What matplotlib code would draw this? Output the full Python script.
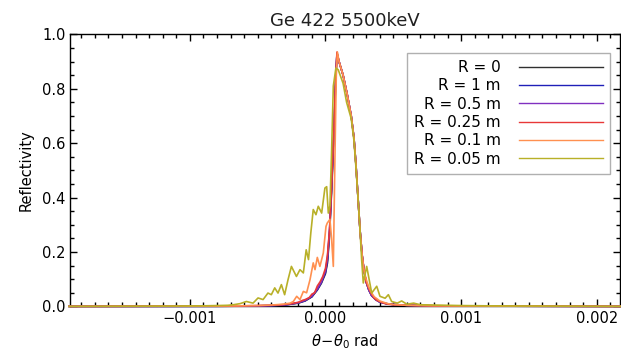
"""
Ge 422 reflectivity curves at 5500 keV for several bending radii
"""
import numpy as np
import matplotlib
matplotlib.use('Agg')
import matplotlib.pyplot as plt
from matplotlib.ticker import MultipleLocator

#%% Data (angles in micro-radians)

# perfect / weakly bent crystal (R = 0, 1 m, 0.5 m)
theta_flat = [-1890, -800, -600, -400, -300, -200, -150, -100, -60, -30, 0, 15,
              30, 45, 60, 75, 85, 100, 130, 160, 190, 210, 225, 240, 255, 270,
              285, 300, 320, 340, 370, 400, 450, 500, 600, 800, 1200, 2180]
refl_flat = [0.0, 0.0005, 0.001, 0.003, 0.005, 0.012, 0.02, 0.035, 0.06, 0.085,
             0.12, 0.16, 0.26, 0.42, 0.60, 0.82, 0.93, 0.90, 0.85, 0.78, 0.70,
             0.62, 0.52, 0.40, 0.28, 0.19, 0.13, 0.09, 0.06, 0.04, 0.025, 0.016,
             0.01, 0.007, 0.004, 0.002, 0.001, 0.0]

theta_r1 = theta_flat
refl_r1 = [0.0, 0.0005, 0.001, 0.003, 0.005, 0.013, 0.021, 0.036, 0.062, 0.088,
           0.125, 0.17, 0.27, 0.43, 0.61, 0.82, 0.93, 0.90, 0.85, 0.78, 0.70,
           0.62, 0.52, 0.40, 0.28, 0.19, 0.13, 0.09, 0.06, 0.04, 0.025, 0.016,
           0.01, 0.007, 0.004, 0.002, 0.001, 0.0]

theta_r05 = theta_flat
refl_r05 = [0.0, 0.0005, 0.001, 0.003, 0.006, 0.014, 0.022, 0.038, 0.064, 0.09,
            0.13, 0.18, 0.28, 0.44, 0.62, 0.83, 0.93, 0.90, 0.85, 0.78, 0.70,
            0.62, 0.52, 0.40, 0.28, 0.19, 0.13, 0.09, 0.06, 0.04, 0.025, 0.016,
            0.01, 0.007, 0.004, 0.002, 0.001, 0.0]

# R = 0.25 m
theta_r025 = [-1890, -800, -600, -400, -300, -250, -200, -170, -150, -120, -100,
              -80, -60, -40, -20, 0, 15, 30, 45, 60, 75, 85, 100, 130, 160, 190,
              210, 225, 240, 255, 270, 285, 300, 320, 340, 360, 380, 400, 430,
              460, 500, 600, 800, 1200, 2180]
refl_r025 = [0.0, 0.001, 0.002, 0.004, 0.007, 0.01, 0.015, 0.022, 0.025, 0.032,
             0.045, 0.05, 0.075, 0.09, 0.11, 0.14, 0.19, 0.28, 0.44, 0.62, 0.84,
             0.935, 0.90, 0.85, 0.78, 0.70, 0.62, 0.52, 0.40, 0.28, 0.19, 0.13,
             0.09, 0.065, 0.045, 0.03, 0.022, 0.018, 0.012, 0.008, 0.006, 0.004,
             0.002, 0.001, 0.0]

# R = 0.1 m
theta_r01 = [-1890, -800, -500, -400, -311, -260, -237, -212, -188, -163, -139,
             -114, -90, -77, -60, -41, -16, 4, 13, 33, 45, 58, 70, 80, 88, 100,
             130, 160, 190, 210, 225, 240, 255, 270, 285, 300, 320, 340, 360,
             380, 400, 430, 460, 500, 600, 800, 1200, 2180]
refl_r01 = [0.0, 0.001, 0.003, 0.005, 0.008, 0.012, 0.018, 0.037, 0.025, 0.055,
            0.05, 0.098, 0.16, 0.135, 0.18, 0.147, 0.196, 0.294, 0.306, 0.32,
            0.25, 0.147, 0.55, 0.85, 0.935, 0.90, 0.85, 0.78, 0.70, 0.62, 0.52,
            0.40, 0.28, 0.19, 0.13, 0.10, 0.07, 0.05, 0.035, 0.028, 0.02, 0.015,
            0.01, 0.007, 0.004, 0.002, 0.001, 0.0]

# R = 0.05 m
theta_r005 = [-1890, -1200, -900, -800, -720, -681, -630, -583, -534, -497,
              -460, -424, -399, -374, -350, -325, -301, -276, -251, -214, -188,
              -163, -142, -125, -108, -90, -70, -53, -28, -4, 9, 21, 33, 45, 58,
              77, 94, 130, 156, 190, 210, 225, 240, 255, 267, 279, 304, 341, 378,
              402, 440, 464, 488, 530, 562, 600, 650, 700, 800, 1000, 1200, 2180]
refl_r005 = [0.0, 0.001, 0.002, 0.003, 0.004, 0.006, 0.01, 0.018, 0.012, 0.031,
             0.025, 0.049, 0.043, 0.068, 0.049, 0.08, 0.043, 0.098, 0.147, 0.11,
             0.135, 0.123, 0.208, 0.172, 0.27, 0.356, 0.337, 0.368, 0.343, 0.435,
             0.44, 0.343, 0.37, 0.565, 0.81, 0.876, 0.87, 0.82, 0.75, 0.69, 0.61,
             0.51, 0.40, 0.28, 0.17, 0.086, 0.147, 0.049, 0.074, 0.037, 0.03,
             0.043, 0.018, 0.012, 0.02, 0.008, 0.012, 0.006, 0.005, 0.003,
             0.002, 0.0]

labels = ['R = 0', 'R = 1 m', 'R = 0.5 m', 'R = 0.25 m', 'R = 0.1 m', 'R = 0.05 m']
colors = ['#303030', '#2020b8', '#8030c0', '#e83838', '#ff9050', '#b8b028']

curves = [(theta_flat, refl_flat), (theta_r1, refl_r1), (theta_r05, refl_r05),
          (theta_r025, refl_r025), (theta_r01, refl_r01), (theta_r005, refl_r005)]

#%% Plot

plt.rcParams['font.family'] = 'DejaVu Sans'

fig = plt.figure(figsize=(6.21, 3.54), dpi=100)
ax = fig.add_axes([0.1135, 0.1345, 0.8845, 0.7685])

for (th, r), lab, c in zip(curves, labels, colors):
    ax.plot(np.array(th) * 1e-6, r, color=c, lw=1.2, label=lab, zorder=3, clip_on=False)

ax.set_xlim(-0.00188, 0.00217)
ax.set_ylim(0.0, 1.0)
ax.xaxis.set_major_locator(MultipleLocator(0.001))
ax.xaxis.set_minor_locator(MultipleLocator(0.0001))
ax.yaxis.set_major_locator(MultipleLocator(0.2))
ax.yaxis.set_minor_locator(MultipleLocator(0.05))
ax.xaxis.set_major_formatter(plt.FuncFormatter(lambda v, p: ('%.3f' % v).replace('-', '\u2212')))
ax.yaxis.set_major_formatter(plt.FuncFormatter(lambda v, p: '%.1f' % v))
ax.tick_params(which='both', direction='in', top=True, right=True, labelsize=10.5, width=1.0)
ax.tick_params(which='major', length=5)
ax.tick_params(which='minor', length=2.8)
for s in ax.spines.values():
    s.set_linewidth(1.0)

ax.set_title('Ge 422 5500keV', fontsize=13, pad=6, color='#202020')
ax.set_ylabel('Reflectivity', fontsize=10.5, labelpad=6)
ax.set_xlabel(r'$\theta\!-\!\theta_0$ rad', fontsize=10.5, labelpad=4)

leg = ax.legend(loc='upper right', bbox_to_anchor=(0.982, 0.850),
                bbox_transform=fig.transFigure, markerfirst=False,
                fontsize=11, frameon=True, fancybox=False, framealpha=1,
                edgecolor='#b0b0b0', handlelength=5.5, handletextpad=1.2,
                labelspacing=0.22, borderpad=0.45, borderaxespad=0)
leg.get_frame().set_linewidth(1.0)
for ln in leg.get_lines():
    ln.set_linewidth(1.0)

fig.savefig('out.png', dpi=100)
